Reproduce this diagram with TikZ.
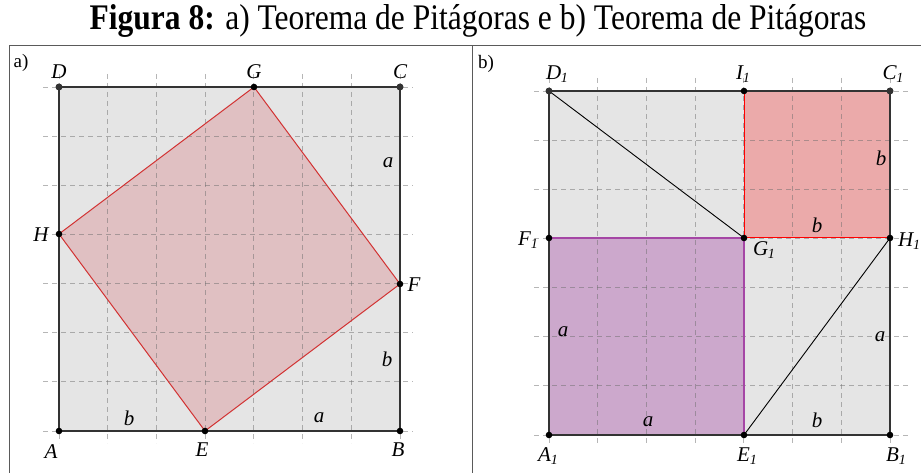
\documentclass[tikz,border=0pt]{standalone}
\usepackage{fontspec}
\setmainfont{Liberation Serif}
\definecolor{gridc}{RGB}{110,110,110}
\definecolor{sqfill}{RGB}{229,229,229}
\definecolor{redA}{RGB}{224,192,194}
\definecolor{redAline}{RGB}{210,50,50}
\definecolor{redB}{RGB}{235,170,170}
\definecolor{redBline}{RGB}{255,0,0}
\definecolor{purpB}{RGB}{204,168,204}
\definecolor{purpline}{RGB}{165,70,165}
\definecolor{edgec}{RGB}{51,51,51}
\definecolor{framec}{RGB}{90,90,90}
\newcommand\sbl[2]{#1\kern-0.3pt\raisebox{-0.35ex}{\fontsize{14}{16}\selectfont #2}}
\tikzset{
  pt/.style={circle, fill=black, inner sep=0pt, minimum size=6.6pt},
  cpt/.style={circle, fill=edgec, inner sep=0pt, minimum size=7pt},
  lbl/.style={font=\fontsize{21}{24}\selectfont\itshape, inner sep=0pt},
  plbl/.style={font=\fontsize{19}{22}\selectfont, inner sep=0pt},
  gridline/.style={gridc, opacity=0.5, dash pattern=on 5pt off 4pt, line width=0.8pt},
  outer/.style={edgec, line width=1.4pt, line join=round},
  frameline/.style={framec, line width=1pt}
}
\begin{document}
\begin{tikzpicture}[x=1pt,y=-1pt]
\useasboundingbox (0,0) rectangle (921,473);
% title and frame
\node[font=\fontsize{36}{40}\selectfont, anchor=base, inner sep=0pt, xscale=0.875] (title) at (478,30) {\textbf{Figura 8:} a) Teorema de Pitágoras e b) Teorema de Pitágoras};
\coordinate (fl) at (9,473);
\coordinate (ftl) at (9,46);
\coordinate (ftr) at (921,46);
\coordinate (fmt) at (472.7,46);
\coordinate (fmb) at (472.7,473);
\draw[frameline] (fl) -- (ftl) -- (ftr);
\draw[frameline] (fmt) -- (fmb);
\node[plbl] (pa) at (21,63) {a)};
\node[plbl] (pb) at (486,64) {b)};

% ---------- panel a ----------
\coordinate (A) at (59,431);
\coordinate (B) at (400,431);
\coordinate (C) at (400,87);
\coordinate (D) at (59,87);
\coordinate (E) at (205,431);
\coordinate (F) at (400,284);
\coordinate (G) at (254,87);
\coordinate (H) at (59,234);
\fill[sqfill] (A) -- (B) -- (C) -- (D) -- cycle;
\fill[redA] (E) -- (F) -- (G) -- (H) -- cycle;
\foreach \k in {0,...,7}{
  \draw[gridline] ({59+\k*48.71},74) -- ({59+\k*48.71},443);
  \draw[gridline] (43,{87+\k*49.14}) -- (413,{87+\k*49.14});
}
\draw[redAline, line width=1pt, line join=round] (E) -- (F) -- (G) -- (H) -- cycle;
\draw[outer] (A) -- (B) -- (C) -- (D) -- cycle;
\node[pt] (pA) at (A) {};
\node[pt] (pB) at (B) {};
\node[cpt] (pC) at (C) {};
\node[cpt] (pD) at (D) {};
\node[pt] (pE) at (E) {};
\node[pt] (pF) at (F) {};
\node[pt] (pG) at (G) {};
\node[pt] (pH) at (H) {};
\node[lbl] (lD) at (59,72) {D};
\node[lbl] (lG) at (254,72) {G};
\node[lbl] (lC) at (400,72) {C};
\node[lbl] (lH) at (41,235) {H};
\node[lbl] (lF) at (414,285) {F};
\node[lbl] (la1) at (388,163) {a};
\node[lbl] (lb1) at (387,359) {b};
\node[lbl] (lb2) at (129,418) {b};
\node[lbl] (la2) at (319,418) {a};
\node[lbl] (lA) at (51,452) {A};
\node[lbl] (lE) at (202,450) {E};
\node[lbl] (lB) at (398,450) {B};

% ---------- panel b ----------
\coordinate (A1) at (549,435);
\coordinate (B1) at (890,435);
\coordinate (C1) at (890,91);
\coordinate (D1) at (549,91);
\coordinate (I1) at (744,91);
\coordinate (G1) at (744,238);
\coordinate (F1) at (549,238);
\coordinate (H1) at (890,238);
\coordinate (E1) at (744,435);
\fill[sqfill] (A1) -- (B1) -- (C1) -- (D1) -- cycle;
\fill[redB] (I1) -- (C1) -- (H1) -- (G1) -- cycle;
\fill[purpB] (F1) -- (G1) -- (E1) -- (A1) -- cycle;
\foreach \k in {0,...,7}{
  \draw[gridline] ({549+\k*48.71},78) -- ({549+\k*48.71},445);
  \draw[gridline] (534,{91+\k*49.14}) -- (908,{91+\k*49.14});
}
\draw[redBline, line width=1pt] (I1) -- (G1) -- (H1);
\draw[purpline, line width=1.2pt] (F1) -- (G1) -- (E1);
\draw[outer] (A1) -- (B1) -- (C1) -- (D1) -- cycle;
\draw[black, line width=0.9pt] (D1) -- (G1);
\draw[black, line width=0.9pt] (E1) -- (H1);
\node[pt] (pA1) at (A1) {};
\node[pt] (pB1) at (B1) {};
\node[cpt] (pC1) at (C1) {};
\node[cpt] (pD1) at (D1) {};
\node[pt] (pI1) at (I1) {};
\node[pt] (pG1) at (G1) {};
\node[pt] (pF1) at (F1) {};
\node[pt] (pH1) at (H1) {};
\node[pt] (pE1) at (E1) {};
\node[lbl] (lD1) at (557,74) {\sbl{D}{1}};
\node[lbl] (lI1) at (743,74) {\sbl{I}{1}};
\node[lbl] (lC1) at (893,74) {\sbl{C}{1}};
\node[lbl] (lF1) at (528,240) {\sbl{F}{1}};
\node[lbl] (lG1) at (764,250) {\sbl{G}{1}};
\node[lbl, anchor=west] (lH1) at (898,241) {\sbl{H}{1}};
\node[lbl] (lA1) at (548,456) {\sbl{A}{1}};
\node[lbl] (lE1) at (747,456) {\sbl{E}{1}};
\node[lbl] (lB1) at (896,456) {\sbl{B}{1}};
\node[lbl] (lb3) at (881,158) {b};
\node[lbl] (lb4) at (817,225) {b};
\node[lbl] (la3) at (563,332) {a};
\node[lbl] (la4) at (648,422) {a};
\node[lbl] (lb5) at (817,420) {b};
\node[lbl] (la5) at (880,337) {a};
\end{tikzpicture}
\end{document}
